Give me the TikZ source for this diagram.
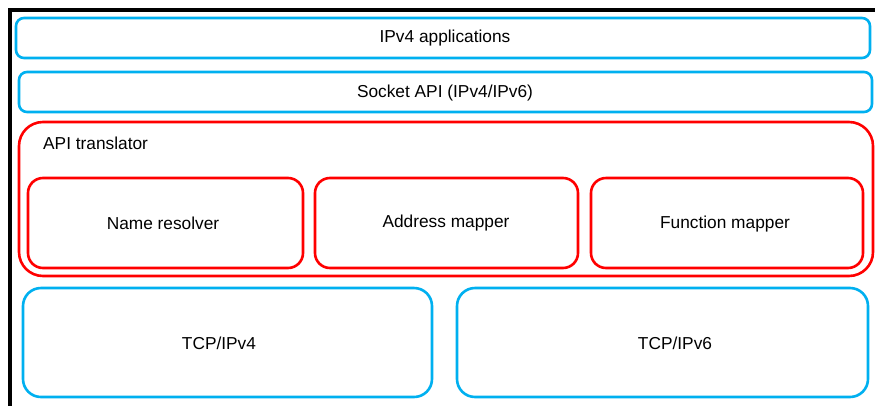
\documentclass[tikz,border=0pt]{standalone}
\usepackage{fontspec}
\setmainfont{Liberation Sans}
\definecolor{layerblue}{HTML}{00B0F0}
\definecolor{xlred}{HTML}{FF0000}
\begin{document}
\begin{tikzpicture}[x=1pt,y=-1pt,
  every node/.style={font=\fontsize{17.3}{20}\selectfont, text=black, inner sep=0pt},
  bluebox/.style={draw=layerblue, line width=2.6pt, fill=white},
  redbox/.style={draw=xlred, line width=2.6pt, fill=white}]
\useasboundingbox (0,0) rectangle (875,405);
\fill[white] (0,0) rectangle (875,405);
% outer frame
\draw[line width=4pt, black] (10,430) -- (10,10) -- (900,10);
% stack of layers
\draw[bluebox, rounded corners=8pt] (16,18) rectangle (870,58);
\node (apps) at (445,38.5) {IPv4 applications};
\draw[bluebox, rounded corners=8pt] (19,72) rectangle (872,112);
\node (sock) at (445,93.5) {Socket API (IPv4/IPv6)};
% API translator and its parts
\draw[redbox, rounded corners=24pt] (19,122) rectangle (873,276);
\node[anchor=west] (apitr) at (43,143.5) {API translator};
\draw[redbox, rounded corners=15pt] (28,178) rectangle (303,268);
\node (name) at (163,223) {Name resolver};
\draw[redbox, rounded corners=15pt] (315,178) rectangle (578,268);
\node (addr) at (446,223) {Address mapper};
\draw[redbox, rounded corners=15pt] (591,178) rectangle (863,268);
\node (func) at (725,224) {Function mapper};
% transport stacks
\draw[bluebox, rounded corners=18pt] (23,288) rectangle (432,397);
\node (tcp4) at (219,343.5) {TCP/IPv4};
\draw[bluebox, rounded corners=18pt] (457,288) rectangle (868,397);
\node (tcp6) at (675,343.5) {TCP/IPv6};
\end{tikzpicture}
\end{document}
